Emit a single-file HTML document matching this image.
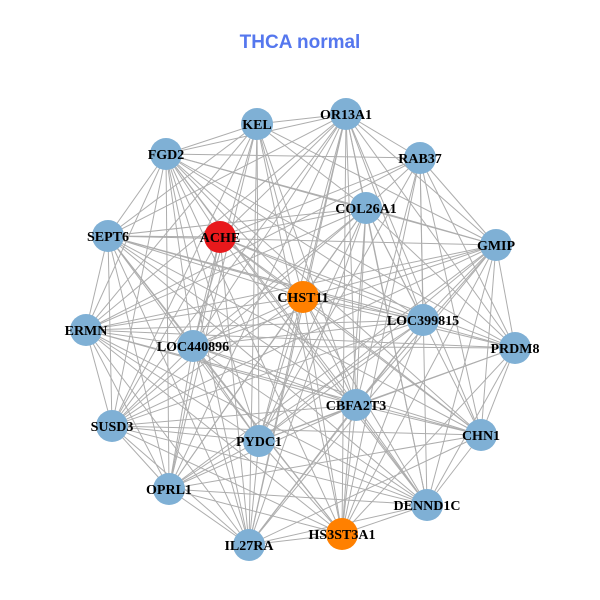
<!DOCTYPE html>
<html><head><meta charset="utf-8"><style>
html,body{margin:0;padding:0;background:#fff;}
svg{display:block;}
</style></head><body>
<svg id="g" width="600" height="600" xmlns="http://www.w3.org/2000/svg">
<rect width="600" height="600" fill="#fff"/>
<text x="300" y="48" text-anchor="middle" font-family="Liberation Sans, sans-serif" font-weight="bold" font-size="19" fill="#5577ee">THCA normal</text>
<g id="edges" stroke="#adadad" stroke-width="1"></g>
<g id="nodes"></g>
</svg>
<script>
var N=[["KEL",257,124,"#7fb0d5"],["OR13A1",346,114,"#7fb0d5"],["FGD2",166,154,"#7fb0d5"],["RAB37",420,158,"#7fb0d5"],["COL26A1",366,208,"#7fb0d5"],["SEPT6",108,236,"#7fb0d5"],["ACHE",220,237,"#e8191c"],["GMIP",496,245,"#7fb0d5"],["CHST11",303,297,"#ff8000"],["LOC399815",423,320,"#7fb0d5"],["ERMN",86,330,"#7fb0d5"],["LOC440896",193,346,"#7fb0d5"],["PRDM8",515,348,"#7fb0d5"],["CBFA2T3",356,405,"#7fb0d5"],["SUSD3",112,426,"#7fb0d5"],["CHN1",481,435,"#7fb0d5"],["PYDC1",259,441,"#7fb0d5"],["OPRL1",169,489,"#7fb0d5"],["DENND1C",427,505,"#7fb0d5"],["HS3ST3A1",342,534,"#ff8000"],["IL27RA",249,545,"#7fb0d5"]];
var ns="http://www.w3.org/2000/svg",E=document.getElementById("edges"),G=document.getElementById("nodes");
for(var i=0;i<N.length;i++)for(var j=i+1;j<N.length;j++){if((i*7+j*3)%9==0)continue;var l=document.createElementNS(ns,"line");l.setAttribute("x1",N[i][1]);l.setAttribute("y1",N[i][2]);l.setAttribute("x2",N[j][1]);l.setAttribute("y2",N[j][2]);E.appendChild(l);}
N.forEach(function(n){var c=document.createElementNS(ns,"circle");c.setAttribute("cx",n[1]);c.setAttribute("cy",n[2]);c.setAttribute("r",16);c.setAttribute("fill",n[3]);G.appendChild(c);});
N.forEach(function(n){var t=document.createElementNS(ns,"text");t.setAttribute("x",n[1]);t.setAttribute("y",n[2]+5);t.setAttribute("text-anchor","middle");t.setAttribute("font-family","Liberation Serif, serif");t.setAttribute("font-weight","bold");t.setAttribute("font-size","14");t.textContent=n[0];G.appendChild(t);});
</script>
</body></html>
